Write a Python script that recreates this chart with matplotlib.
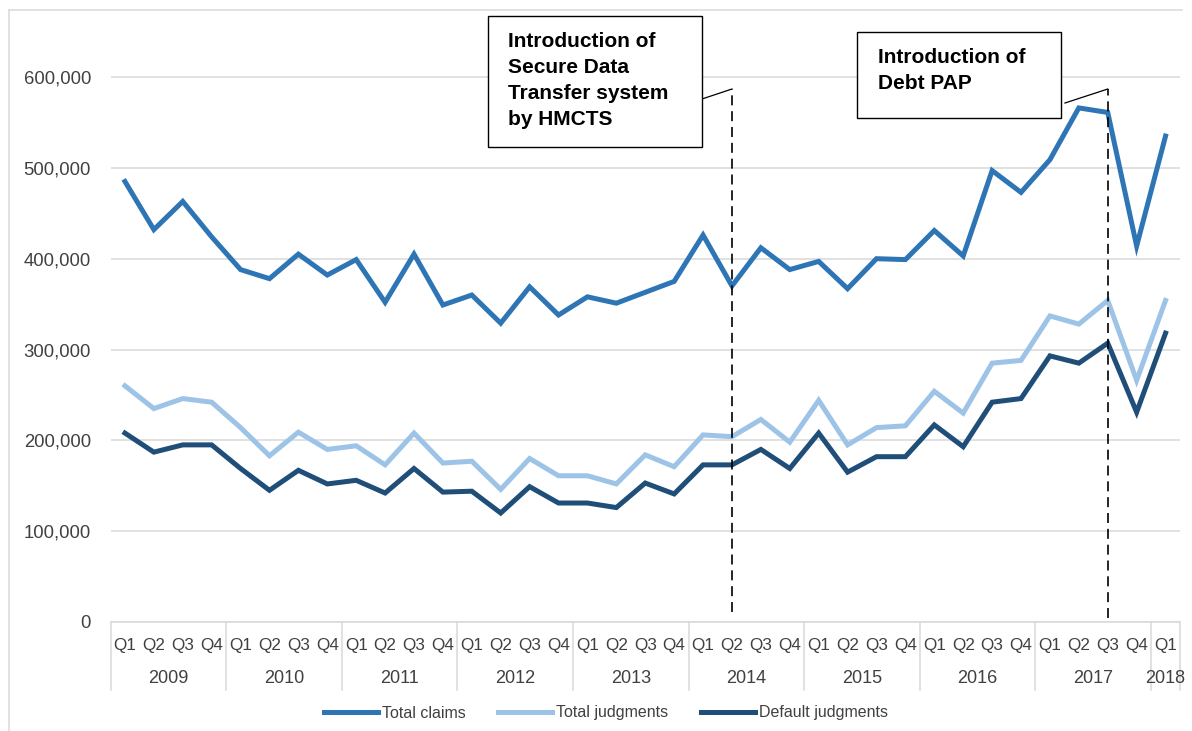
import matplotlib
matplotlib.use('agg')
import matplotlib.pyplot as plt
from matplotlib.patches import Rectangle
from matplotlib.lines import Line2D

plt.rcParams['font.family'] = ['Liberation Sans', 'DejaVu Sans']

# quarterly figures, 2009 Q1 to 2018 Q1
years = ['2009', '2010', '2011', '2012', '2013', '2014', '2015', '2016', '2017', '2018']
quarters = ['Q1', 'Q2', 'Q3', 'Q4'] * 9 + ['Q1']

total_claims = [485000, 432000, 463000, 424000, 388000, 378000, 405000, 382000,
                399000, 352000, 405000, 349000, 360000, 329000, 369000, 338000,
                358000, 351000, 363000, 375000, 426000, 370000, 412000, 388000,
                397000, 367000, 400000, 399000, 431000, 403000, 497000, 473000,
                509000, 566000, 561000, 414000, 535000]
total_judgments = [260000, 235000, 246000, 242000, 214000, 183000, 209000, 190000,
                   194000, 173000, 208000, 175000, 177000, 146000, 180000, 161000,
                   161000, 152000, 184000, 171000, 206000, 204000, 223000, 198000,
                   244000, 195000, 214000, 216000, 254000, 230000, 285000, 288000,
                   337000, 328000, 354000, 266000, 354000]
default_judgments = [208000, 187000, 195000, 195000, 169000, 145000, 167000, 152000,
                     156000, 142000, 169000, 143000, 144000, 120000, 149000, 131000,
                     131000, 126000, 153000, 141000, 173000, 173000, 190000, 169000,
                     208000, 165000, 182000, 182000, 217000, 193000, 242000, 246000,
                     293000, 285000, 307000, 231000, 318000]

series_names = ['Total claims', 'Total judgments', 'Default judgments']
colors = ['#2E75B6', '#9DC3E6', '#1F4E79']

W, H = 1192, 731
fig = plt.figure(figsize=(W / 100, H / 100), dpi=100)
ax_left, ax_right, ax_top, ax_bottom = 110.5, 1180, 10, 622
ax = fig.add_axes([ax_left / W, (H - ax_bottom) / H,
                   (ax_right - ax_left) / W, (ax_bottom - ax_top) / H])

n = len(quarters)
xs = list(range(n))
for vals, name, c in zip([total_claims, total_judgments, default_judgments], series_names, colors):
    ax.plot(xs, vals, color=c, lw=3.6, label=name, solid_joinstyle='miter', zorder=3)

ax.set_xlim(-0.5, n - 0.5)
ax.set_ylim(0, 673800)
ax.set_yticks(range(0, 600001, 100000))
ax.set_yticklabels(['{:,}'.format(v) for v in range(0, 600001, 100000)],
                   fontsize=13.3, color='#404040')
ax.tick_params(axis='y', length=0, pad=14)
ax.grid(axis='y', color='#d9d9d9', lw=1.1, zorder=0)
for s in ['top', 'right', 'left']:
    ax.spines[s].set_visible(False)
ax.spines['bottom'].set_color('#d9d9d9')
ax.spines['bottom'].set_linewidth(1.1)
ax.set_xticks([])

# two-level category axis
tr = ax.get_xaxis_transform()
for i, q in enumerate(quarters):
    ax.text(i, -0.039, q, transform=tr, ha='center', va='center',
            fontsize=12.3, color='#404040', clip_on=False)
bounds = list(range(0, n, 4)) + [n]
for b in bounds:
    ax.add_line(Line2D([b - 0.5, b - 0.5], [0, -0.111], transform=tr,
                       color='#d9d9d9', lw=1.1, clip_on=False))
for k, yr in enumerate(years):
    lo, hi = bounds[k] - 0.5, bounds[k + 1] - 0.5
    ax.text((lo + hi) / 2, -0.093, yr, transform=tr, ha='center', va='center',
            fontsize=13, color='#404040', clip_on=False)

# annotations: event markers
dash = (0, (6, 3.5))
ax.plot([21, 21], [11000, 586800], color='black', lw=1.2, linestyle=dash, zorder=4)
ax.plot([19.96, 21], [575800, 586800], color='black', lw=0.9, zorder=4)
ax.add_patch(Rectangle((12.56, 523000), 19.96 - 12.56, 667200 - 523000,
                       facecolor='white', edgecolor='black', lw=1.0, zorder=5))
ax.text(13.25, 650000, 'Introduction of\nSecure Data\nTransfer system\nby HMCTS',
        fontsize=15, fontweight='bold', ha='left', va='top', linespacing=1.47, zorder=6)

ax.plot([34, 34], [4400, 586800], color='black', lw=1.2, linestyle=dash, zorder=4)
ax.plot([32.52, 34], [571400, 586800], color='black', lw=0.9, zorder=4)
ax.add_patch(Rectangle((25.33, 554900), 32.39 - 25.33, 649600 - 554900,
                       facecolor='white', edgecolor='black', lw=1.0, zorder=5))
ax.text(26.05, 632000, 'Introduction of\nDebt PAP',
        fontsize=15, fontweight='bold', ha='left', va='top', linespacing=1.47, zorder=6)

# chart area border (left and top)
fig.add_artist(Line2D([9 / W, 9 / W], [0, 1 - 10 / H], color='#d9d9d9', lw=1.1))
fig.add_artist(Line2D([9 / W, 1182 / W], [1 - 10 / H, 1 - 10 / H], color='#d9d9d9', lw=1.1))

fig.legend(loc='center', bbox_to_anchor=(606 / W, (H - 713) / H), ncol=3, frameon=False,
           fontsize=11.5, handlelength=3.4, handletextpad=0.25, columnspacing=2.0,
           labelcolor='#404040')

plt.savefig('out.png', dpi=100)
plt.close()
